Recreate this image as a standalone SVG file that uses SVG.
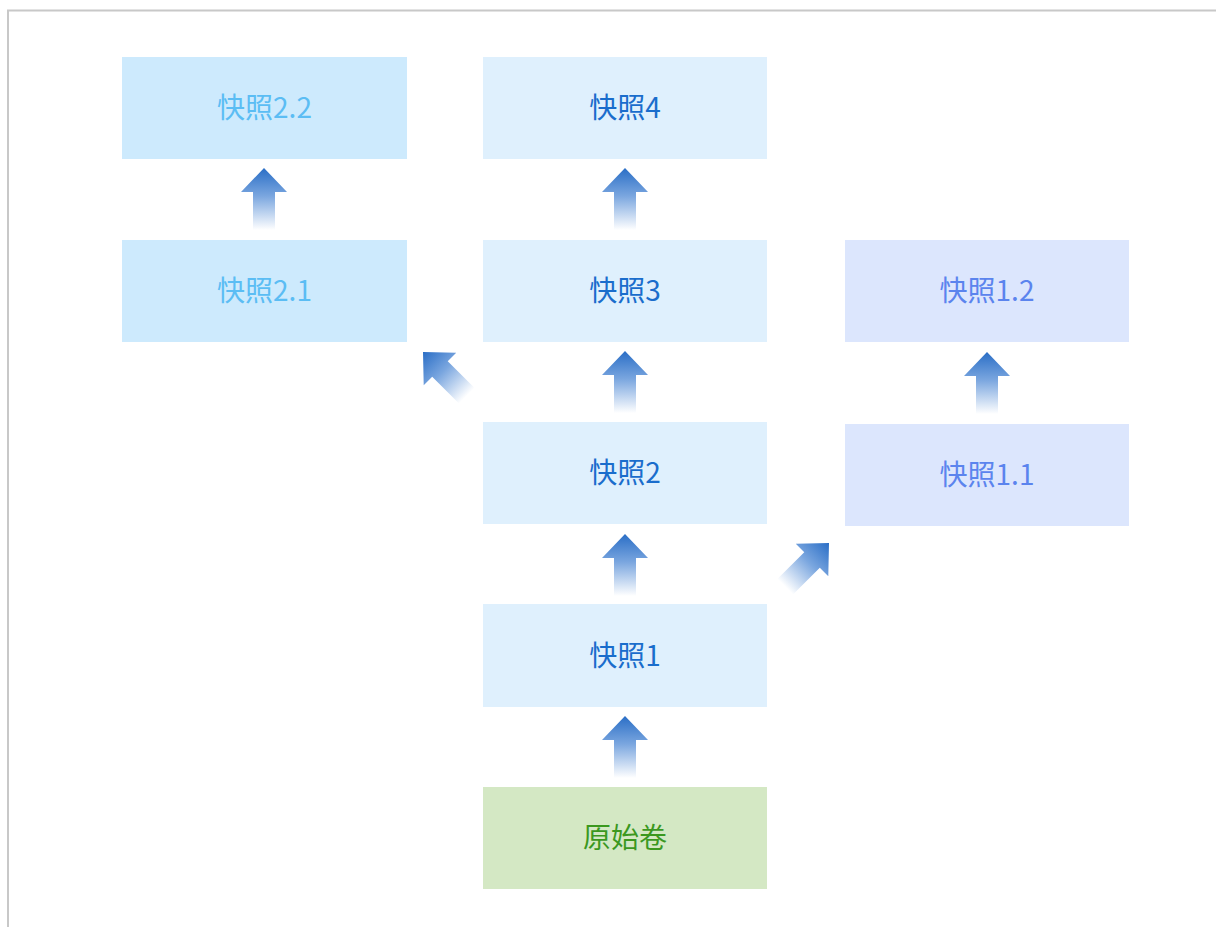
<svg xmlns="http://www.w3.org/2000/svg" width="1216" height="927" viewBox="0 0 1216 927">
<style>
.t{font-family:"Noto Sans CJK SC","Noto Sans",sans-serif;font-size:28px;text-anchor:middle;dominant-baseline:central}
.c2{fill:#cdeafd}.t2{fill:#5bbdf4}
.cm{fill:#dff0fd}.tm{fill:#1a6dcc}
.c1{fill:#dce6fd}.t1{fill:#5b84ee}
.cg{fill:#d4e8c4}.tg{fill:#3b981f}
</style>
<defs>
<linearGradient id="ag" x1="0" y1="0" x2="0" y2="1">
<stop offset="0" stop-color="#2a6ec6"/>
<stop offset="0.45" stop-color="#7aa6df"/>
<stop offset="1" stop-color="#ffffff"/>
</linearGradient>
<path id="arr" d="M0,0 L23,24 L11,24 L11,62 L-11,62 L-11,24 L-23,24 Z" fill="url(#ag)"/>
</defs>
<rect x="0" y="0" width="1216" height="927" fill="#ffffff"/>
<path d="M8,927 L8,10.5 L1216,10.5" fill="none" stroke="#c8c8c8" stroke-width="2"/>
<g id="n22"><rect class="c2" x="122" y="57" width="285" height="102"/><text class="t t2" x="264.5" y="106">快照2.2</text></g>
<g id="n21"><rect class="c2" x="122" y="240" width="285" height="102"/><text class="t t2" x="264.5" y="289">快照2.1</text></g>
<g id="n4"><rect class="cm" x="483" y="57" width="284" height="102"/><text class="t tm" x="625" y="106">快照4</text></g>
<g id="n3"><rect class="cm" x="483" y="240" width="284" height="102"/><text class="t tm" x="625" y="289">快照3</text></g>
<g id="n2"><rect class="cm" x="483" y="422" width="284" height="102"/><text class="t tm" x="625" y="471">快照2</text></g>
<g id="n1"><rect class="cm" x="483" y="604" width="284" height="103"/><text class="t tm" x="625" y="654">快照1</text></g>
<g id="n0"><rect class="cg" x="483" y="787" width="284" height="102"/><text class="t tg" x="625" y="836">原始卷</text></g>
<g id="n12"><rect class="c1" x="845" y="240" width="284" height="102"/><text class="t t1" x="987" y="289">快照1.2</text></g>
<g id="n11"><rect class="c1" x="845" y="424" width="284" height="102"/><text class="t t1" x="987" y="473">快照1.1</text></g>
<g id="connectors">
<use href="#arr" x="264" y="168"/>
<use href="#arr" x="625" y="168"/>
<use href="#arr" x="625" y="351"/>
<use href="#arr" x="625" y="534"/>
<use href="#arr" x="625" y="716"/>
<use href="#arr" x="987" y="352"/>
<use href="#arr" transform="translate(423,352) rotate(-45)"/>
<use href="#arr" transform="translate(829,543) rotate(45)"/>
</g>
</svg>
